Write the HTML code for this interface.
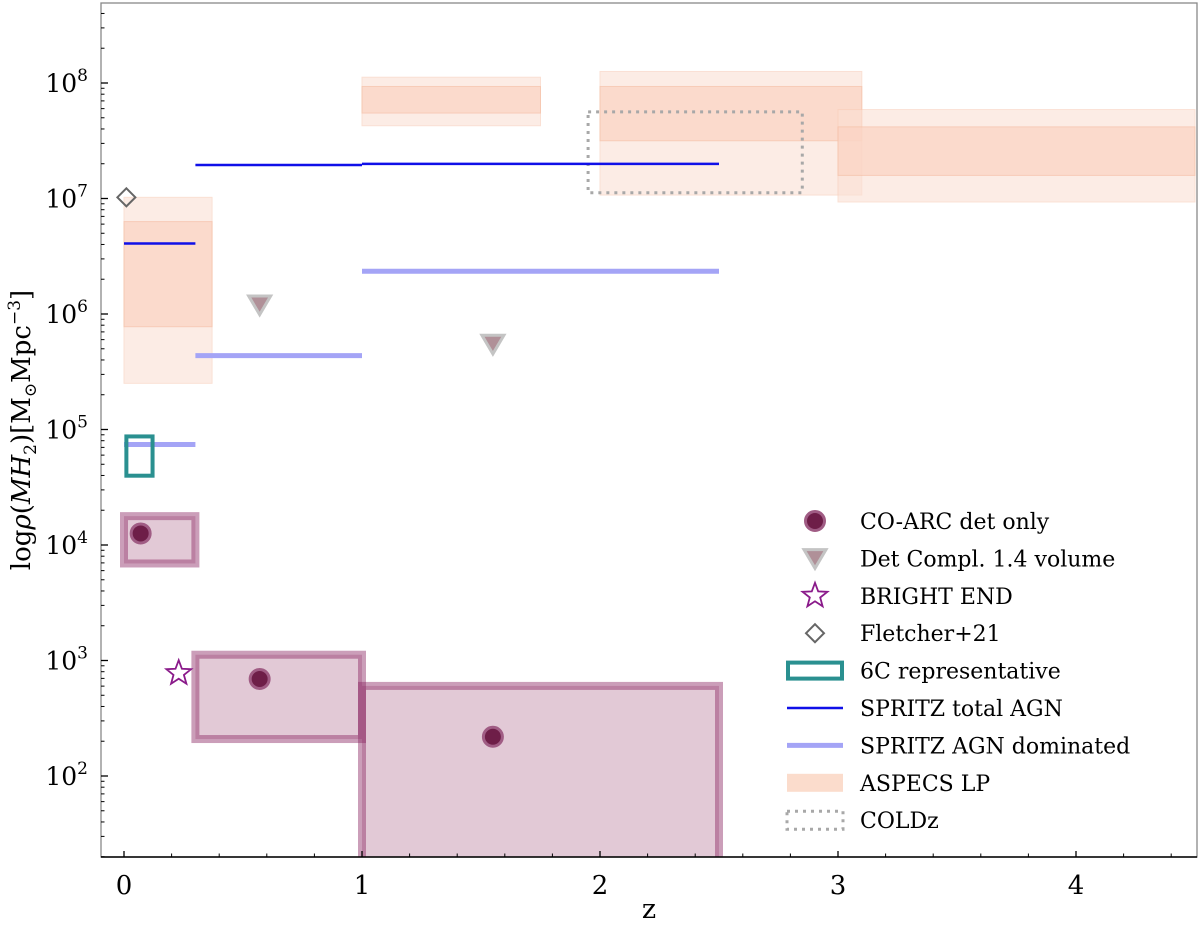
<!DOCTYPE html>
<html><head><meta charset="utf-8"><style>
body{margin:0;background:#fff}
text{font-family:"DejaVu Serif","Liberation Serif",serif}
</style></head><body>
<svg id="chart" width="1200" height="925" xmlns="http://www.w3.org/2000/svg">
<g id="marks"></g>
<g id="axes"></g>
<g id="legend"></g>
</svg>
<script>
const aspecsZ0=[0.0,1.0,2.0,3.0];
const aspecsZ1=[0.37,1.75,3.1,4.5];
const aspecsOutLo=[5.40,7.63,7.03,6.97];
const aspecsOutHi=[7.01,8.05,8.10,7.77];
const aspecsInLo=[5.89,7.74,7.50,7.20];
const aspecsInHi=[6.80,7.97,7.97,7.62];
const spritzTotZ0=[0.0,0.3,1.0], spritzTotZ1=[0.3,1.0,2.5], spritzTot=[6.61,7.29,7.30];
const spritzDomZ0=[0.0,0.3,1.0], spritzDomZ1=[0.3,1.0,2.5], spritzDom=[4.87,5.64,6.37];
const coarcZ=[0.07,0.57,1.55], coarcVal=[4.10,2.84,2.34];
const coarcBoxZ0=[0.0,0.3,1.0], coarcBoxZ1=[0.3,1.0,2.5], coarcBoxLo=[3.84,2.32,1.0], coarcBoxHi=[4.25,3.05,2.78];
const detZ=[0.57,1.55], detVal=[6.08,5.74];
const brightZ=[0.23], brightVal=[2.89];
const fletcherZ=[0.01], fletcherVal=[7.01];
const sixcZ=[0.01,0.12], sixcVal=[4.60,4.94];
const coldzZ=[1.95,2.85], coldzVal=[7.05,7.75];
const xTicks=[0,1,2,3,4];
const yTicks=[2,3,4,5,6,7,8];

const X=z=>124+238*z, Y=l=>83+(8-l)*115.5;
const L=101,R=1197,T=3,B=857;
const NS="http://www.w3.org/2000/svg";
function mk(tag,attrs,parent){const e=document.createElementNS(NS,tag);for(const k in attrs)e.setAttribute(k,attrs[k]);parent.appendChild(e);return e;}
const marks=document.getElementById('marks'),axes=document.getElementById('axes'),leg=document.getElementById('legend');
const cp=mk('clipPath',{id:'clip'},marks);
mk('rect',{x:L,y:T,width:R-L,height:B-T},cp);
const g=mk('g',{'clip-path':'url(#clip)'},marks);

for(let i=0;i<aspecsZ0.length;i++){
  let r=mk('rect',{x:X(aspecsZ0[i]),y:Y(aspecsOutHi[i]),width:X(aspecsZ1[i])-X(aspecsZ0[i]),height:Y(aspecsOutLo[i])-Y(aspecsOutHi[i]),fill:'#fbe0d4',stroke:'#f8cdb8','stroke-width':1,opacity:0.6},g);
  
  
  let r2=mk('rect',{x:X(aspecsZ0[i]),y:Y(aspecsInHi[i]),width:X(aspecsZ1[i])-X(aspecsZ0[i]),height:Y(aspecsInLo[i])-Y(aspecsInHi[i]),fill:'#fbd3c2',stroke:'#f5bea5','stroke-width':1,opacity:0.7},g);
  
  
}
for(let i=0;i<coarcBoxZ0.length;i++){
  let r=mk('rect',{x:X(coarcBoxZ0[i]),y:Y(coarcBoxHi[i]),width:X(coarcBoxZ1[i])-X(coarcBoxZ0[i]),height:Y(coarcBoxLo[i])-Y(coarcBoxHi[i]),fill:'rgba(140,40,90,0.25)',stroke:'rgba(140,40,100,0.45)','stroke-width':8},g);
  
  
}
let cz=mk('rect',{x:X(coldzZ[0]),y:Y(coldzVal[1]),width:X(coldzZ[1])-X(coldzZ[0]),height:Y(coldzVal[0])-Y(coldzVal[1]),fill:'none',stroke:'#a8a8a8','stroke-width':3,'stroke-dasharray':'3,5'},g);


for(let i=0;i<spritzDom.length;i++){
  let l=mk('line',{x1:X(spritzDomZ0[i]),x2:X(spritzDomZ1[i]),y1:Y(spritzDom[i]),y2:Y(spritzDom[i]),stroke:'#a4a4f6','stroke-width':5},g);
  
  
}
for(let i=0;i<spritzTot.length;i++){
  let l=mk('line',{x1:X(spritzTotZ0[i]),x2:X(spritzTotZ1[i]),y1:Y(spritzTot[i]),y2:Y(spritzTot[i]),stroke:'#1010e8','stroke-width':2.5},g);
  
  
}
let s6=mk('rect',{x:X(sixcZ[0]),y:Y(sixcVal[1]),width:X(sixcZ[1])-X(sixcZ[0]),height:Y(sixcVal[0])-Y(sixcVal[1]),fill:'none',stroke:'#2a9090','stroke-width':4},g);


function tri(x,y,s,p){return mk('polygon',{points:`${x-s},${y-s*0.8} ${x+s},${y-s*0.8} ${x},${y+s*0.9}`,fill:'#b09098',stroke:'#c4c4c4','stroke-width':3},p);}
for(let i=0;i<detZ.length;i++){
  let t=tri(X(detZ[i]),Y(detVal[i]),11,g);
  
  
}
function dia(x,y,s,p){return mk('polygon',{points:`${x},${y-s} ${x+s},${y} ${x},${y+s} ${x-s},${y}`,fill:'none',stroke:'#666','stroke-width':2},p);}
for(let i=0;i<fletcherZ.length;i++){
  let d=dia(X(fletcherZ[i]),Y(fletcherVal[i]),9,g);
  
  
}
function star(x,y,r,p){let pts=[];for(let k=0;k<10;k++){const a=-Math.PI/2+k*Math.PI/5,rr=k%2?r*0.42:r;pts.push((x+rr*Math.cos(a)).toFixed(1)+','+(y+rr*Math.sin(a)).toFixed(1));}return mk('polygon',{points:pts.join(' '),fill:'none',stroke:'#8a1a8a','stroke-width':1.8},p);}
for(let i=0;i<brightZ.length;i++){
  let s=star(X(brightZ[i]),Y(brightVal[i]),13,g);
  
  
}
for(let i=0;i<coarcZ.length;i++){
  let c=mk('circle',{cx:X(coarcZ[i]),cy:Y(coarcVal[i]),r:9.5,fill:'#6e1e48',stroke:'#a05c84','stroke-width':3},g);
  
  
}

let fr=mk('rect',{x:L,y:T,width:R-L,height:B-T,fill:'none',stroke:'#888','stroke-width':1.3},axes);


mk('line',{x1:L,x2:R,y1:B,y2:B,stroke:'#000','stroke-width':1.5},axes);
for(const t of xTicks){
  mk('line',{x1:X(t),x2:X(t),y1:B,y2:B-6,stroke:'#000','stroke-width':1.3},axes);
  let tx=mk('text',{x:X(t),y:B+37,'font-size':26,'text-anchor':'middle',fill:'#000'},axes);tx.textContent=t;
  
  
}
for(let z=0;z<4.55;z+=0.2){if(Math.abs(z-Math.round(z))>0.01)mk('line',{x1:X(z),x2:X(z),y1:B,y2:B-3.5,stroke:'#000','stroke-width':1},axes);}
for(const t of yTicks){
  mk('line',{x1:L,x2:L+7,y1:Y(t),y2:Y(t),stroke:'#000','stroke-width':1.3},axes);
  let tx=mk('text',{x:L-13,y:Y(t)+9,'font-size':25,'text-anchor':'end',fill:'#000'},axes);
  tx.innerHTML='10<tspan dy="-11" font-size="17">'+t+'</tspan>';
  
  
}
for(let d=1;d<=8;d++)for(let m=2;m<=9;m++){const y=Y(d+Math.log10(m));if(y>T&&y<B)mk('line',{x1:L,x2:L+3.5,y1:y,y2:y,stroke:'#000','stroke-width':1},axes);}
let xl=mk('text',{x:649,y:918,'font-size':27,'text-anchor':'middle'},axes);xl.textContent='z';


let yl=mk('text',{x:0,y:0,'font-size':26,'text-anchor':'middle',transform:'translate(30,430) rotate(-90)'},axes);
yl.innerHTML='log<tspan font-style="italic">ρ</tspan>(<tspan font-style="italic">MH</tspan><tspan dy="6" font-size="17">2</tspan><tspan dy="-6">)[M</tspan><tspan dy="6" font-size="17">⊙</tspan><tspan dy="-6">Mpc</tspan><tspan dy="-10" font-size="17">−3</tspan><tspan dy="10">]</tspan>';



const labels=['CO-ARC det only','Det Compl. 1.4 volume','BRIGHT END','Fletcher+21','6C representative','SPRITZ total AGN','SPRITZ AGN dominated','ASPECS LP','COLDz'];
const names=['coarc','det-compl','bright-end','fletcher','6c','spritz-total','spritz-dom','aspecs','coldz'];
labels.forEach((lab,i)=>{
  const y=521+i*37.4, cx=815;
  const gg=mk('g',{},leg);
  
  
  if(i==0)mk('circle',{cx,cy:y,r:9.5,fill:'#6e1e48',stroke:'#a05c84','stroke-width':3},gg);
  if(i==1)tri(cx,y,11,gg);
  if(i==2)star(cx,y,13,gg);
  if(i==3)dia(cx,y,9,gg);
  if(i==4)mk('rect',{x:cx-27,y:y-8,width:54,height:16,fill:'none',stroke:'#2a9090','stroke-width':4},gg);
  if(i==5)mk('line',{x1:cx-28,x2:cx+28,y1:y,y2:y,stroke:'#1010e8','stroke-width':2.5},gg);
  if(i==6)mk('line',{x1:cx-28,x2:cx+28,y1:y,y2:y,stroke:'#a4a4f6','stroke-width':5},gg);
  if(i==7)mk('rect',{x:cx-28,y:y-9,width:56,height:18,fill:'#fbdccc'},gg);
  if(i==8)mk('rect',{x:cx-28,y:y-9,width:56,height:18,fill:'none',stroke:'#a8a8a8','stroke-width':3,'stroke-dasharray':'3,5'},gg);
  const t=mk('text',{x:860,y:y+8,'font-size':22},gg);t.textContent=lab;
});
</script>
</body></html>
